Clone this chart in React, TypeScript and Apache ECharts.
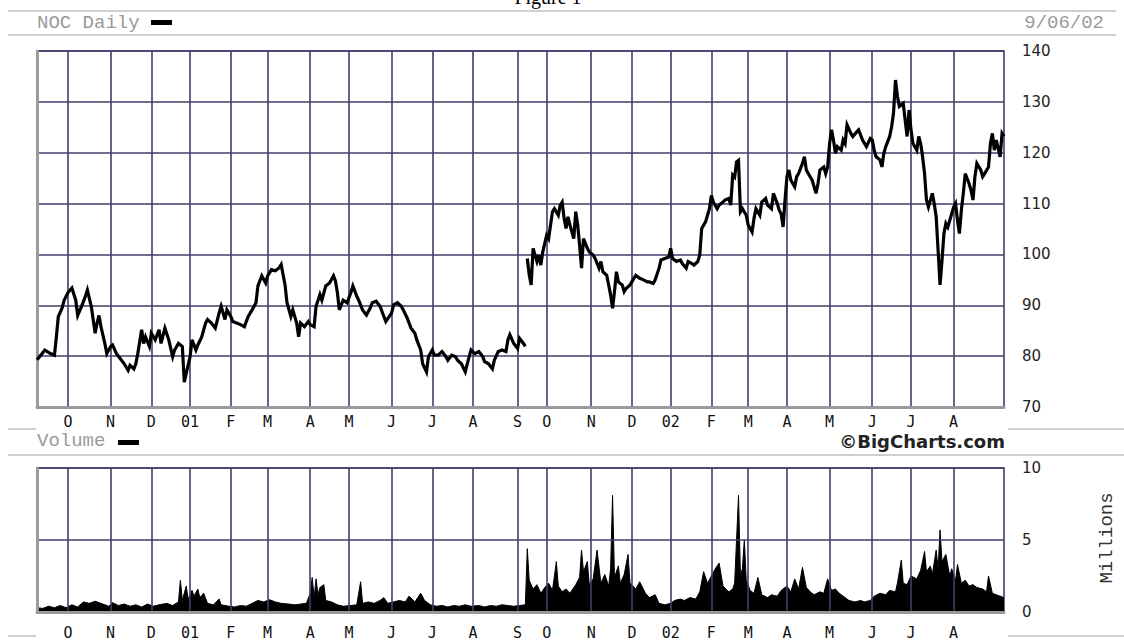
import React, { useEffect, useRef } from "react";
import * as echarts from "echarts";

// Trading-day index (0 = first day shown, early Sep 2000) of each month start
const monthStarts = [16, 38, 59, 79, 100, 119, 141, 161, 183, 204, 225, 248, 263, 286, 307, 327, 348, 367, 387, 409, 431, 451, 473];
const monthLabels = ["O", "N", "D", "01", "F", "M", "A", "M", "J", "J", "A", "S", "O", "N", "D", "02", "F", "M", "A", "M", "J", "J", "A"];

// Price before the Sept-2001 market closure
const dayA = [0, 2, 4, 7, 9, 10, 11, 13, 14, 16, 18, 20, 21, 23, 25, 26, 28, 30, 31, 32, 33, 35, 36, 38, 39, 41, 43, 45, 47, 48, 50, 51, 52, 54, 55, 56, 58, 59, 61, 63, 64, 66, 68, 70, 71, 73, 75, 76, 77, 79, 80, 82, 83, 85, 87, 88, 90, 92, 94, 95, 97, 98, 100, 101, 103, 105, 107, 109, 111, 113, 114, 116, 118, 119, 121, 123, 125, 126, 128, 129, 131, 132, 134, 135, 136, 138, 140, 141, 143, 144, 146, 147, 149, 151, 153, 154, 155, 156, 158, 160, 162, 163, 165, 166, 168, 170, 172, 173, 175, 177, 179, 180, 183, 184, 186, 188, 189, 191, 193, 195, 196, 198, 199, 201, 202, 204, 205, 207, 209, 211, 212, 214, 216, 217, 219, 221, 223, 224, 226, 228, 230, 231, 233, 235, 236, 238, 240, 242, 243, 244, 246, 248, 249, 251, 252];
const closeA = [79.3, 80.2, 81.2, 80.5, 80.2, 83.8, 87.8, 89.5, 91, 92.5, 93.4, 91, 88, 89.8, 91.8, 93, 89.8, 84.5, 86.5, 88, 85.8, 82.5, 80.5, 81.9, 82.2, 80.5, 79.5, 78.5, 77.2, 78.2, 77.5, 78.5, 80.5, 85.2, 82.5, 83.8, 81.9, 84.5, 83.2, 85.2, 82.5, 85.5, 83.2, 79.9, 81.2, 82.5, 81.9, 74.9, 76.6, 79.9, 83.2, 81.2, 82.2, 83.8, 86.5, 87.2, 86.5, 85.5, 88.5, 89.8, 87.2, 89.1, 87.8, 86.8, 86.5, 86.2, 85.8, 87.8, 89.1, 90.5, 93.8, 95.8, 94.4, 95.8, 97, 96.8, 97.4, 98, 94, 90.5, 87.8, 89.1, 86.5, 83.8, 86.5, 85.8, 86.8, 86.2, 85.8, 89.8, 92.1, 91, 93.8, 94.4, 95.8, 94.8, 92.5, 89.1, 91, 90.5, 92.5, 93.8, 91.8, 91, 89.1, 88.1, 89.5, 90.5, 90.8, 89.8, 87.8, 86.8, 88.5, 90.1, 90.5, 89.8, 89.1, 87.5, 85.5, 84.5, 83.2, 81.2, 78.5, 76.9, 79.9, 81.2, 80.2, 80.2, 80.9, 79.9, 79.2, 80.2, 79.9, 79.2, 78.5, 76.9, 79.9, 81.2, 80.5, 80.9, 79.9, 78.9, 78.5, 77.5, 79.2, 80.9, 81.2, 80.9, 83.2, 84.2, 82.5, 81.5, 83.5, 82.5, 81.9];

// Price after the market reopened
const dayB = [253, 254, 255, 256, 258, 259, 260, 261, 263, 264, 265, 266, 267, 269, 270, 271, 272, 273, 274, 275, 277, 278, 279, 280, 281, 282, 284, 285, 287, 288, 290, 291, 292, 294, 295, 296, 297, 298, 299, 300, 302, 303, 304, 306, 308, 309, 311, 313, 315, 316, 318, 319, 321, 322, 324, 326, 327, 328, 330, 332, 333, 335, 336, 338, 339, 341, 342, 343, 345, 346, 347, 348, 349, 351, 352, 354, 355, 357, 358, 359, 360, 361, 362, 363, 364, 366, 367, 369, 370, 371, 373, 374, 376, 377, 379, 380, 382, 383, 384, 385, 386, 387, 388, 389, 391, 392, 393, 395, 396, 397, 398, 400, 401, 402, 403, 404, 406, 407, 408, 409, 410, 411, 412, 413, 415, 416, 417, 418, 420, 421, 423, 424, 426, 428, 430, 431, 432, 433, 435, 436, 437, 438, 440, 441, 442, 443, 444, 445, 447, 448, 449, 450, 451, 452, 454, 455, 456, 457, 458, 459, 460, 462, 463, 464, 465, 466, 467, 468, 469, 470, 472, 473, 474, 475, 476, 477, 478, 479, 481, 482, 483, 484, 485, 487, 488, 489, 491, 492, 493, 494, 495, 497, 498, 499];
const closeB = [99.2, 96, 94, 101.2, 98.6, 99.9, 97.9, 100.5, 103.8, 103.1, 105.8, 108.4, 109, 107.7, 109.7, 110.3, 107.1, 105.1, 107.4, 105.8, 103.1, 108.4, 105.8, 101.8, 97.3, 103.1, 101.2, 100.5, 99.9, 99.2, 97.3, 98.6, 96.6, 95.9, 94, 92, 89.4, 92.7, 96.6, 94.6, 94, 92.7, 93.3, 94, 95.3, 95.9, 95.3, 95, 94.6, 94.6, 94.3, 95, 97.3, 98.9, 99.2, 99.5, 101.2, 99.2, 98.6, 98.9, 98.2, 97.3, 98.6, 98.2, 97.9, 98.6, 99.9, 105.1, 106.4, 107.7, 109, 111.6, 110.3, 109, 109.7, 110.3, 110.7, 111, 109.7, 115.6, 115.2, 118.2, 118.5, 108.4, 109, 107.7, 105.8, 104.4, 107.1, 109, 107.7, 110.3, 111, 109.7, 109, 112, 110, 108.7, 108, 105.4, 110.7, 115.3, 116.6, 114.6, 113.3, 115.3, 115.9, 117.9, 119.2, 116.6, 115.9, 114.6, 113.3, 112, 113.9, 116.6, 117.2, 115.9, 117.2, 121.8, 124.5, 122.5, 119.9, 121.2, 120.5, 122.5, 121.8, 125.5, 123.8, 123.2, 124.1, 124.5, 122.5, 121.2, 122.8, 122.5, 120.5, 119.2, 118.6, 117.2, 119.9, 121.2, 123.2, 125.1, 127.8, 134.3, 131.1, 129.1, 129.7, 126.4, 123.2, 128.4, 124.5, 121.8, 120.5, 123.2, 121.8, 119.2, 115.9, 110.7, 109.3, 112, 110, 107.4, 100.8, 94, 98.8, 104.1, 106.1, 105.4, 108, 109.3, 110, 106.7, 104.1, 108.7, 112, 115.9, 113.9, 112.6, 110.7, 115.3, 117.9, 116.6, 115.3, 115.9, 117.2, 121.8, 123.8, 120.5, 122.5, 119.2, 123.8, 123.2];

// Volume, millions of shares
const volDay = [0, 3, 6, 9, 12, 15, 18, 21, 24, 27, 30, 33, 37, 39, 42, 45, 48, 51, 54, 57, 60, 63, 67, 70, 73, 74, 75, 77, 78, 80, 81, 83, 84, 86, 88, 91, 94, 95, 99, 102, 105, 108, 111, 114, 117, 120, 123, 126, 130, 133, 136, 139, 141, 142, 143, 144, 145, 146, 148, 149, 152, 155, 158, 162, 165, 167, 168, 171, 174, 177, 179, 181, 184, 187, 190, 192, 195, 198, 200, 203, 206, 209, 212, 215, 218, 221, 224, 228, 231, 234, 237, 240, 243, 246, 249, 252, 253, 254, 256, 258, 260, 262, 264, 266, 268, 269, 271, 273, 275, 278, 280, 281, 282, 284, 285, 287, 289, 291, 293, 295, 296, 297, 298, 300, 301, 303, 305, 306, 309, 311, 314, 316, 319, 321, 324, 327, 329, 332, 334, 337, 340, 342, 344, 346, 348, 350, 352, 354, 357, 359, 360, 362, 363, 364, 365, 366, 368, 370, 372, 374, 377, 379, 382, 384, 387, 389, 391, 393, 395, 397, 399, 401, 404, 406, 408, 410, 412, 414, 417, 419, 422, 425, 427, 430, 432, 435, 438, 440, 443, 444, 446, 447, 449, 451, 454, 456, 458, 459, 461, 462, 464, 465, 466, 467, 469, 471, 472, 474, 475, 477, 479, 481, 483, 485, 488, 490, 491, 493, 495, 497, 499];
const volume = [0.3, 0.25, 0.4, 0.3, 0.45, 0.3, 0.5, 0.35, 0.7, 0.6, 0.75, 0.6, 0.4, 0.65, 0.45, 0.55, 0.4, 0.5, 0.35, 0.55, 0.4, 0.5, 0.6, 0.45, 0.7, 2.2, 0.8, 1.8, 0.9, 1.5, 1.1, 1.6, 1.0, 1.3, 0.6, 0.5, 0.9, 0.5, 0.4, 0.35, 0.45, 0.4, 0.6, 0.8, 0.7, 0.85, 0.7, 0.6, 0.55, 0.5, 0.55, 0.6, 1.3, 2.4, 1.0, 2.3, 1.2, 1.7, 1.9, 0.8, 0.7, 0.5, 0.4, 0.45, 0.5, 2.1, 0.6, 0.7, 0.6, 0.8, 1.0, 0.6, 0.7, 0.8, 0.7, 1.1, 0.7, 1.3, 0.8, 0.5, 0.4, 0.45, 0.35, 0.45, 0.4, 0.5, 0.4, 0.45, 0.35, 0.45, 0.4, 0.5, 0.45, 0.4, 0.45, 0.5, 4.4, 2.2, 1.6, 1.9, 1.3, 1.7, 2.0, 1.5, 3.5, 1.8, 1.4, 1.6, 1.3, 1.9, 2.4, 4.3, 2.8, 3.5, 1.9, 2.3, 4.3, 2.0, 2.6, 1.8, 3.0, 8.1, 2.4, 3.2, 2.0, 2.6, 4.0, 2.0, 1.6, 2.1, 1.3, 1.0, 1.2, 0.6, 0.5, 0.6, 0.8, 0.9, 0.8, 1.0, 0.9, 1.4, 2.8, 2.0, 2.5, 3.0, 3.4, 1.8, 1.4, 1.6, 2.0, 8.1, 2.5, 3.0, 5.0, 2.2, 1.5, 1.3, 2.4, 1.2, 1.0, 1.2, 1.1, 1.5, 1.8, 1.4, 2.3, 1.6, 3.1, 1.7, 1.4, 1.2, 1.4, 1.3, 2.3, 1.5, 1.6, 1.3, 1.0, 0.8, 0.7, 0.8, 0.7, 0.8, 1.1, 1.3, 1.2, 1.5, 1.4, 2.0, 3.6, 2.0, 1.9, 2.5, 2.3, 2.9, 4.2, 2.8, 3.2, 2.6, 4.3, 3.0, 5.7, 3.5, 4.0, 2.5, 3.0, 2.2, 3.3, 2.0, 2.2, 1.8, 1.9, 1.7, 1.6, 1.4, 2.5, 1.3, 1.2, 1.1, 1.0];

const NAVY = "#3e3e6e";
const EDGE = "#9a9a9a";
const SEP = "#cfcfcf";
const MONO = '"Liberation Mono", monospace';

function monthLabel(v: number): string {
  const i = monthStarts.indexOf(Math.round(v));
  return i >= 0 ? monthLabels[i] : "";
}

function txt(x: number, y: number, text: string, font: string, fill: string, align: string, extra: any = {}) {
  return {
    type: "text",
    x,
    y,
    ...extra,
    style: { text, font, fill, align, verticalAlign: "middle", textAlign: align, textVerticalAlign: "middle" },
  };
}

function hline(x1: number, x2: number, y: number) {
  return { type: "line", shape: { x1, y1: y, x2, y2: y }, style: { stroke: SEP, lineWidth: 2 } };
}

export default function App() {
  const ref = useRef<HTMLDivElement>(null);

  useEffect(() => {
    document.body.style.margin = "0";
    if (!ref.current) return;
    const chart = echarts.init(ref.current, null, { renderer: "svg" });

    const xAxisBase = (gridIndex: number, margin: number) => ({
      type: "value",
      gridIndex,
      min: 0,
      max: 499,
      z: 3,
      axisLine: { show: true, onZero: false, lineStyle: { color: EDGE, width: 3 } },
      axisTick: { show: false, customValues: monthStarts },
      axisLabel: {
        customValues: monthStarts,
        formatter: (v: number) => monthLabel(v),
        margin,
        fontFamily: '"DejaVu Sans Mono", monospace',
        fontSize: 15,
        color: "#111",
      },
      splitLine: { show: true, lineStyle: { color: NAVY, width: 1.6 } },
    });

    const option: any = {
      animation: false,
      backgroundColor: "#ffffff",
      grid: [
        { left: 37, top: 51, width: 967, height: 356, show: true, borderColor: NAVY, borderWidth: 1.6, backgroundColor: "transparent" },
        { left: 37, top: 468, width: 967, height: 152, show: true, borderColor: NAVY, borderWidth: 1.6, backgroundColor: "transparent" },
      ],
      xAxis: [xAxisBase(0, 7), xAxisBase(1, 13)],
      yAxis: [
        {
          type: "value",
          gridIndex: 0,
          position: "right",
          min: 70,
          max: 140,
          interval: 10,
          z: 3,
          axisLine: { show: true, lineStyle: { color: EDGE, width: 3 } },
          axisTick: { show: false },
          axisLabel: { margin: 18, fontFamily: '"DejaVu Sans", sans-serif', fontSize: 15, color: "#222" },
          splitLine: { show: true, lineStyle: { color: NAVY, width: 1.6 } },
        },
        {
          type: "value",
          gridIndex: 1,
          position: "right",
          min: 0,
          max: 10,
          interval: 5,
          z: 3,
          axisLine: { show: true, lineStyle: { color: EDGE, width: 3 } },
          axisTick: { show: false },
          axisLabel: { margin: 18, fontFamily: '"DejaVu Sans", sans-serif', fontSize: 15, color: "#222" },
          splitLine: { show: true, lineStyle: { color: NAVY, width: 1.6 } },
        },
      ],
      series: [
        {
          type: "line",
          xAxisIndex: 0,
          yAxisIndex: 0,
          data: dayA.map((d, i) => [d, closeA[i]]),
          symbol: "none",
          lineStyle: { color: "#000", width: 3.2, join: "miter" },
          z: 4,
        },
        {
          type: "line",
          xAxisIndex: 0,
          yAxisIndex: 0,
          data: dayB.map((d, i) => [d, closeB[i]]),
          symbol: "none",
          lineStyle: { color: "#000", width: 3.2, join: "miter" },
          z: 4,
        },
        {
          type: "line",
          xAxisIndex: 1,
          yAxisIndex: 1,
          data: volDay.map((d, i) => [d, volume[i]]),
          symbol: "none",
          lineStyle: { color: "#000", width: 1 },
          areaStyle: { color: "#000", opacity: 1 },
          z: 2,
        },
      ],
      graphic: {
        elements: [
          {
            type: "text",
            x: 548,
            y: 7,
            style: { text: "Figure 1", font: '20px "Liberation Serif", serif', fill: "#000", align: "center", verticalAlign: "bottom", textAlign: "center", textVerticalAlign: "bottom" },
          },
          hline(8, 1116, 11),
          hline(8, 1116, 35),
          txt(37, 23, "NOC Daily", `19px ${MONO}`, "#9a9a9a", "left"),
          { type: "rect", shape: { x: 151, y: 20, width: 21, height: 5 }, style: { fill: "#000" } },
          txt(1104, 23, "9/06/02", `19px ${MONO}`, "#9a9a9a", "right"),
          hline(8, 36, 429),
          hline(1008, 1124, 429),
          hline(8, 1124, 455),
          txt(37, 441, "Volume", `19px ${MONO}`, "#9a9a9a", "left"),
          { type: "rect", shape: { x: 118, y: 440, width: 21, height: 5 }, style: { fill: "#000" } },
          txt(1005, 441, "©BigCharts.com", 'bold 18px "DejaVu Sans", sans-serif', "#222", "right"),
          hline(8, 36, 636),
          hline(1008, 1124, 636),
          txt(1107, 538, "Millions", `19px ${MONO}`, "#333", "center", { rotation: Math.PI / 2 }),
        ],
      },
    };

    chart.setOption(option);
    return () => chart.dispose();
  }, []);

  return <div ref={ref} style={{ width: 1124, height: 640 }} />;
}
